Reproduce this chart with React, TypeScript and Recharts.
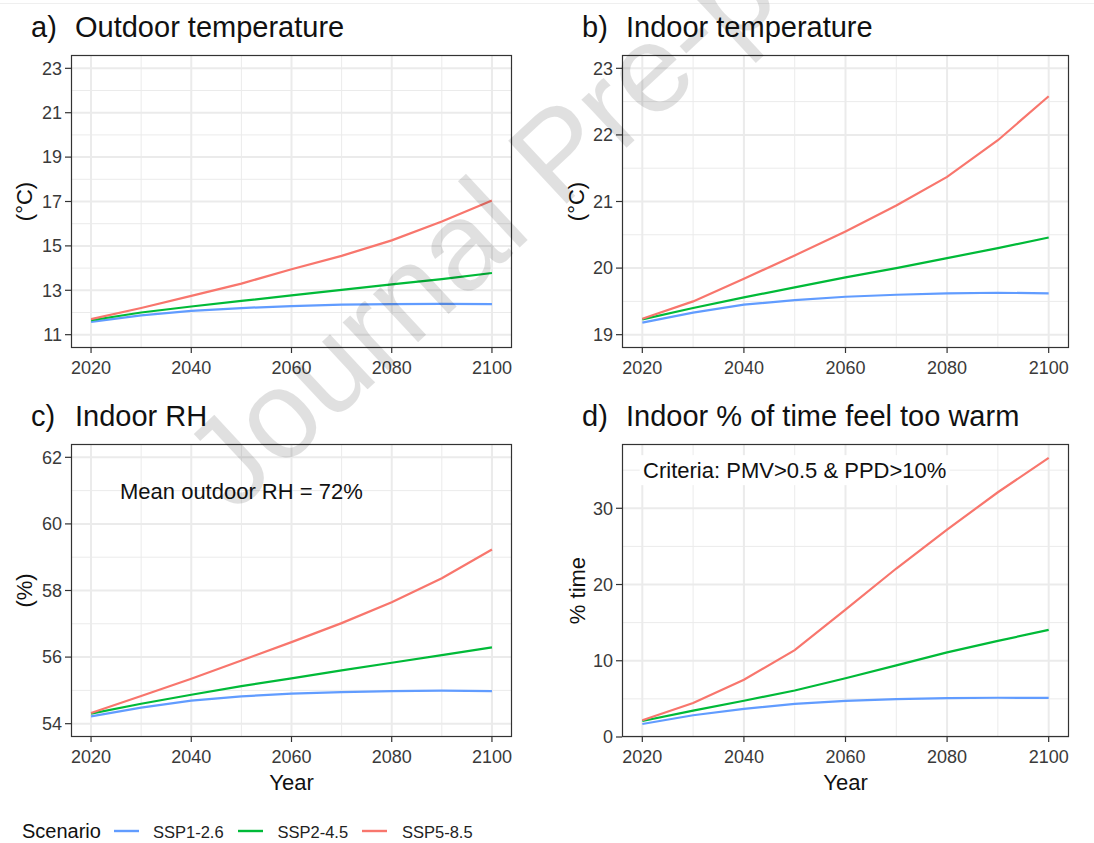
import { CartesianGrid, Line, LineChart, ReferenceDot, XAxis, YAxis } from 'recharts';

const FONT = '"Liberation Sans", Arial, Helvetica, sans-serif';

// decadal model output, 2020-2100
const years = [2020, 2030, 2040, 2050, 2060, 2070, 2080, 2090, 2100];
const yearTicks = [2020, 2040, 2060, 2080, 2100];
const yearMinor = [2030, 2050, 2070, 2090];

const scenarios = ['SSP1-2.6', 'SSP2-4.5', 'SSP5-8.5'];
const scenarioColors = ['#619CFF', '#00BA38', '#F8766D'];

// a) outdoor temperature (°C)
const outdoorSSP126 = [11.58, 11.87, 12.07, 12.2, 12.29, 12.35, 12.38, 12.39, 12.38];
const outdoorSSP245 = [11.65, 12.0, 12.27, 12.52, 12.77, 13.02, 13.27, 13.5, 13.78];
const outdoorSSP585 = [11.7, 12.2, 12.75, 13.3, 13.95, 14.55, 15.25, 16.1, 17.05];

// b) indoor temperature (°C)
const indoorSSP126 = [19.18, 19.33, 19.45, 19.52, 19.57, 19.6, 19.62, 19.63, 19.62];
const indoorSSP245 = [19.23, 19.4, 19.56, 19.71, 19.86, 20.0, 20.15, 20.3, 20.46];
const indoorSSP585 = [19.24, 19.5, 19.84, 20.19, 20.55, 20.94, 21.37, 21.92, 22.58];

// c) indoor relative humidity (%)
const rhSSP126 = [54.22, 54.48, 54.69, 54.82, 54.9, 54.95, 54.98, 54.99, 54.98];
const rhSSP245 = [54.3, 54.6, 54.87, 55.13, 55.36, 55.6, 55.83, 56.06, 56.29];
const rhSSP585 = [54.32, 54.83, 55.35, 55.9, 56.45, 57.02, 57.65, 58.37, 59.23];

// d) share of hours too warm (PMV > 0.5 & PPD > 10%)
const warmSSP126 = [1.7, 2.85, 3.7, 4.35, 4.75, 4.98, 5.1, 5.15, 5.12];
const warmSSP245 = [2.1, 3.45, 4.75, 6.1, 7.7, 9.4, 11.1, 12.6, 14.05];
const warmSSP585 = [2.2, 4.45, 7.5, 11.4, 16.7, 22.1, 27.2, 32.1, 36.6];

type Box = { x0: number; y0: number; x1: number; y1: number };

const YW = 60;
const MT = 10;
const MR = 12;
const XH = 40;

function toRows(series: number[][]) {
  return years.map((year, i) => ({ year, s0: series[0][i], s1: series[1][i], s2: series[2][i] }));
}

function Panel({
  box,
  series,
  yDomain,
  yTicks,
  yMinor,
  note,
}: {
  box: Box;
  series: number[][];
  yDomain: [number, number];
  yTicks: number[];
  yMinor: number[];
  note?: { x: number; y: number; text: string; boxed?: boolean };
}) {
  const w = box.x1 - box.x0 + YW + MR;
  const h = box.y1 - box.y0 + MT + XH;
  return (
    <div style={{ position: 'absolute', left: box.x0 - YW, top: box.y0 - MT }}>
      <LineChart width={w} height={h} data={toRows(series)} margin={{ top: MT, right: MR, bottom: 0, left: 0 }}>
        <CartesianGrid stroke="#ebebeb" strokeWidth={1} verticalValues={yearMinor} horizontalValues={yMinor} />
        <CartesianGrid stroke="#ebebeb" strokeWidth={2} verticalValues={yearTicks} horizontalValues={yTicks} />
        <XAxis
          dataKey="year"
          type="number"
          domain={[2016, 2104]}
          ticks={yearTicks}
          allowDataOverflow
          height={XH}
          axisLine={false}
          tickLine={{ stroke: '#333', strokeWidth: 1.2 }}
          tickSize={5}
          tickMargin={8}
          tick={{ fontSize: 18, fill: '#3a3a3a' }}
        />
        <YAxis
          type="number"
          domain={yDomain}
          ticks={yTicks}
          allowDataOverflow
          width={YW}
          axisLine={false}
          tickLine={{ stroke: '#333', strokeWidth: 1.2 }}
          tickSize={6}
          tickMargin={3}
          tick={{ fontSize: 18, fill: '#3a3a3a' }}
        />
        {note && (
          <ReferenceDot
            x={note.x}
            y={note.y}
            r={0}
            shape={(p: { cx?: number; cy?: number }) => (
              <g>
                {note.boxed && (
                  <rect x={(p.cx ?? 0) - 155} y={(p.cy ?? 0) - 15} width={310} height={30} fill="#fff" />
                )}
                <text x={p.cx} y={p.cy} dy="0.36em" textAnchor="middle" fontSize={22} fill="#111">
                  {note.text}
                </text>
              </g>
            )}
          />
        )}
        {scenarios.map((name, i) => (
          <Line
            key={name}
            type="linear"
            dataKey={`s${i}`}
            name={name}
            stroke={scenarioColors[i]}
            strokeWidth={2.2}
            dot={false}
            isAnimationActive={false}
          />
        ))}
      </LineChart>
    </div>
  );
}

const boxA: Box = { x0: 71, y0: 55, x1: 512, y1: 348 };
const boxB: Box = { x0: 622, y0: 55, x1: 1069, y1: 348 };
const boxC: Box = { x0: 71, y0: 444, x1: 512, y1: 737 };
const boxD: Box = { x0: 622, y0: 444, x1: 1069, y1: 737 };
const boxes = [boxA, boxB, boxC, boxD];

const titles = [
  { tag: 'a)', text: 'Outdoor temperature', box: boxA },
  { tag: 'b)', text: 'Indoor temperature', box: boxB },
  { tag: 'c)', text: 'Indoor RH', box: boxC },
  { tag: 'd)', text: 'Indoor % of time feel too warm', box: boxD },
];

const yTitles = [
  { text: '(°C)', x: 24, box: boxA },
  { text: '(°C)', x: 576, box: boxB },
  { text: '(%)', x: 24, box: boxC },
  { text: '% time', x: 577, box: boxD },
];

export default function App() {
  const warmMax = Math.max(...warmSSP585);
  return (
    <div
      style={{
        position: 'absolute',
        left: 0,
        top: 0,
        width: 1094,
        height: 843,
        background: '#fff',
        fontFamily: FONT,
        overflow: 'hidden',
      }}
    >
      <Panel
        box={boxA}
        series={[outdoorSSP126, outdoorSSP245, outdoorSSP585]}
        yDomain={[10.4, 23.6]}
        yTicks={[11, 13, 15, 17, 19, 21, 23]}
        yMinor={[12, 14, 16, 18, 20, 22]}
      />
      <Panel
        box={boxB}
        series={[indoorSSP126, indoorSSP245, indoorSSP585]}
        yDomain={[18.8, 23.2]}
        yTicks={[19, 20, 21, 22, 23]}
        yMinor={[19.5, 20.5, 21.5, 22.5]}
      />
      <Panel
        box={boxC}
        series={[rhSSP126, rhSSP245, rhSSP585]}
        yDomain={[53.6, 62.4]}
        yTicks={[54, 56, 58, 60, 62]}
        yMinor={[55, 57, 59, 61]}
        note={{ x: 2050, y: 61, text: 'Mean outdoor RH = 72%' }}
      />
      <Panel
        box={boxD}
        series={[warmSSP126, warmSSP245, warmSSP585]}
        yDomain={[0, warmMax * 1.05]}
        yTicks={[0, 10, 20, 30]}
        yMinor={[5, 15, 25, 35]}
        note={{ x: 2050, y: 35, text: 'Criteria: PMV>0.5 & PPD>10%', boxed: true }}
      />

      <svg
        width={1094}
        height={843}
        style={{ position: 'absolute', left: 0, top: 0, pointerEvents: 'none' }}
      >
        <line x1={0} x2={1094} y1={3.5} y2={3.5} stroke="#efefef" strokeWidth={1} />
        {boxes.map((b, i) => (
          <rect
            key={i}
            x={b.x0 + 0.5}
            y={b.y0 + 0.5}
            width={b.x1 - b.x0 - 1}
            height={b.y1 - b.y0 - 1}
            fill="none"
            stroke="#333"
            strokeWidth={1.2}
          />
        ))}
        {titles.map((t) => (
          <g key={t.tag} fontSize={29} fill="#111">
            <text x={t.box.x0 - 40} y={t.box.y0 - 18}>
              {t.tag}
            </text>
            <text x={t.box.x0 + 4} y={t.box.y0 - 18}>
              {t.text}
            </text>
          </g>
        ))}
        {yTitles.map((t, i) => (
          <text
            key={i}
            transform={`translate(${t.x},${(t.box.y0 + t.box.y1) / 2}) rotate(-90)`}
            textAnchor="middle"
            dy="0.36em"
            fontSize={22}
            fill="#111"
          >
            {t.text}
          </text>
        ))}
        {[boxC, boxD].map((b, i) => (
          <text key={i} x={(b.x0 + b.x1) / 2} y={790} textAnchor="middle" fontSize={22} fill="#111">
            Year
          </text>
        ))}

        <text x={22} y={838} fontSize={20} fill="#111">
          Scenario
        </text>
        {scenarios.map((name, i) => (
          <g key={name}>
            <line
              x1={114 + i * 124}
              x2={139 + i * 124}
              y1={831}
              y2={831}
              stroke={scenarioColors[i]}
              strokeWidth={2.4}
            />
            <text x={153 + i * 124.5} y={837.5} fontSize={16.5} fill="#222">
              {name}
            </text>
          </g>
        ))}

        <text
          transform="translate(234,514) rotate(-43)"
          fontSize={125}
          fill="#000"
          fillOpacity={0.12}
        >
          Journal Pre-proof
        </text>
      </svg>
    </div>
  );
}
